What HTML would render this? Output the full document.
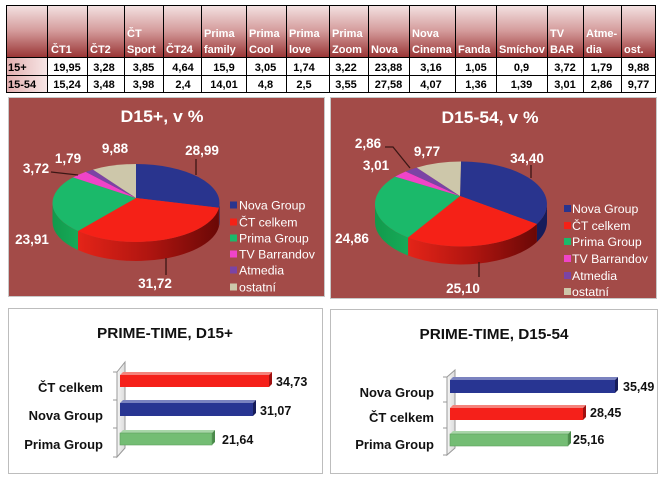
<!DOCTYPE html>
<html><head><meta charset="utf-8"><style>
html,body{margin:0;padding:0;background:#fff;}
svg{display:block;}
text{font-family:"Liberation Sans","DejaVu Sans",sans-serif;}
.h{fill:#fff;font-weight:bold;font-size:11px;}
.d{fill:#000;font-weight:bold;font-size:11px;text-anchor:middle;}
.pl{fill:#fff;font-weight:bold;font-size:13.5px;text-anchor:middle;}
.lg{fill:#fff;font-size:12.3px;}
.cat{fill:#111;font-weight:bold;font-size:13px;text-anchor:end;}
.bv{fill:#111;font-weight:bold;font-size:12.5px;}
</style></head><body>
<svg width="665" height="480" viewBox="0 0 665 480" xmlns="http://www.w3.org/2000/svg">
<defs>
<linearGradient id="hdr" x1="0" y1="0" x2="0" y2="1">
<stop offset="0" stop-color="#f4e3e3"/><stop offset="0.5" stop-color="#d49b9b"/><stop offset="1" stop-color="#9a3636"/>
</linearGradient>
<linearGradient id="rh" x1="0" y1="0" x2="1" y2="0">
<stop offset="0" stop-color="#e2aeae"/><stop offset="1" stop-color="#f7e6e6"/>
</linearGradient>
<linearGradient id="rs1" gradientUnits="userSpaceOnUse" x1="78" y1="0" x2="219" y2="0">
<stop offset="0" stop-color="#e42418"/><stop offset="0.5" stop-color="#b01510"/><stop offset="1" stop-color="#6a0806"/>
</linearGradient>
<linearGradient id="rs2" gradientUnits="userSpaceOnUse" x1="408" y1="0" x2="537" y2="0">
<stop offset="0" stop-color="#e42418"/><stop offset="0.5" stop-color="#b01510"/><stop offset="1" stop-color="#6a0806"/>
</linearGradient>
<linearGradient id="gs" x1="0" y1="0" x2="1" y2="0">
<stop offset="0" stop-color="#129a4c"/><stop offset="1" stop-color="#16aa58"/>
</linearGradient>
<linearGradient id="wall" x1="0" y1="0" x2="1" y2="0">
<stop offset="0" stop-color="#f4f4f4"/><stop offset="1" stop-color="#dcdcdc"/>
</linearGradient>
</defs>

<!-- TABLE -->
<rect x="6" y="5" width="649" height="52" fill="url(#hdr)"/>
<rect x="6" y="57" width="41" height="35" fill="url(#rh)"/>
<rect x="47" y="57" width="608" height="35" fill="#fff"/>
<g stroke="#000" stroke-width="1">
<line x1="6" y1="5.5" x2="655" y2="5.5"/>
<line x1="6" y1="57.5" x2="655" y2="57.5"/>
<line x1="6" y1="75.5" x2="655" y2="75.5"/>
<line x1="6" y1="92.5" x2="655" y2="92.5"/>
<line x1="6.5" y1="5" x2="6.5" y2="93"/>
<line x1="47.5" y1="5" x2="47.5" y2="93"/>
<line x1="87.5" y1="5" x2="87.5" y2="93"/>
<line x1="124.5" y1="5" x2="124.5" y2="93"/>
<line x1="163.5" y1="5" x2="163.5" y2="93"/>
<line x1="201.5" y1="5" x2="201.5" y2="93"/>
<line x1="246.5" y1="5" x2="246.5" y2="93"/>
<line x1="286.5" y1="5" x2="286.5" y2="93"/>
<line x1="329.5" y1="5" x2="329.5" y2="93"/>
<line x1="368.5" y1="5" x2="368.5" y2="93"/>
<line x1="409.5" y1="5" x2="409.5" y2="93"/>
<line x1="455.5" y1="5" x2="455.5" y2="93"/>
<line x1="496.5" y1="5" x2="496.5" y2="93"/>
<line x1="547.5" y1="5" x2="547.5" y2="93"/>
<line x1="583.5" y1="5" x2="583.5" y2="93"/>
<line x1="621.5" y1="5" x2="621.5" y2="93"/>
<line x1="655.5" y1="5" x2="655.5" y2="93"/>
</g>
<text class="h" x="51" y="53">ČT1</text>
<text class="h" x="90" y="53">ČT2</text>
<text class="h" x="127" y="37">ČT</text><text class="h" x="127" y="53">Sport</text>
<text class="h" x="166" y="53">ČT24</text>
<text class="h" x="204" y="37">Prima</text><text class="h" x="204" y="53">family</text>
<text class="h" x="249" y="37">Prima</text><text class="h" x="249" y="53">Cool</text>
<text class="h" x="289" y="37">Prima</text><text class="h" x="289" y="53">love</text>
<text class="h" x="332" y="37">Prima</text><text class="h" x="332" y="53">Zoom</text>
<text class="h" x="371" y="53">Nova</text>
<text class="h" x="412" y="37">Nova</text><text class="h" x="412" y="53">Cinema</text>
<text class="h" x="458" y="53">Fanda</text>
<text class="h" x="499" y="53">Smíchov</text>
<text class="h" x="550" y="37">TV</text><text class="h" x="550" y="53">BAR</text>
<text class="h" x="586" y="37">Atme-</text><text class="h" x="586" y="53">dia</text>
<text class="h" x="624" y="53">ost.</text>

<text x="8" y="71" style="font-weight:bold;font-size:11px;fill:#000">15+</text>
<text x="8" y="88" style="font-weight:bold;font-size:11px;fill:#000">15-54</text>
<g>
<text class="d" x="67" y="71">19,95</text><text class="d" x="104" y="71">3,28</text><text class="d" x="143.5" y="71">3,85</text><text class="d" x="183" y="71">4,64</text><text class="d" x="224" y="71">15,9</text><text class="d" x="265.5" y="71">3,05</text><text class="d" x="304" y="71">1,74</text><text class="d" x="346" y="71">3,22</text><text class="d" x="388.5" y="71">23,88</text><text class="d" x="431" y="71">3,16</text><text class="d" x="476" y="71">1,05</text><text class="d" x="521.5" y="71">0,9</text><text class="d" x="565" y="71">3,72</text><text class="d" x="601.5" y="71">1,79</text><text class="d" x="638.5" y="71">9,88</text>
<text class="d" x="67" y="88">15,24</text><text class="d" x="104" y="88">3,48</text><text class="d" x="143.5" y="88">3,98</text><text class="d" x="183" y="88">2,4</text><text class="d" x="224" y="88">14,01</text><text class="d" x="265.5" y="88">4,8</text><text class="d" x="304" y="88">2,5</text><text class="d" x="346" y="88">3,55</text><text class="d" x="388.5" y="88">27,58</text><text class="d" x="431" y="88">4,07</text><text class="d" x="476" y="88">1,36</text><text class="d" x="521.5" y="88">1,39</text><text class="d" x="565" y="88">3,01</text><text class="d" x="601.5" y="88">2,86</text><text class="d" x="638.5" y="88">9,77</text>
</g>

<!-- PIE PANELS -->
<rect x="8.5" y="97.5" width="316" height="199" fill="#a34b48" stroke="#c8c8c8"/>
<rect x="330.5" y="97.5" width="326" height="201" fill="#a34b48" stroke="#c8c8c8"/>

<!-- PIE 1 -->
<text x="162" y="122" text-anchor="middle" textLength="83" lengthAdjust="spacingAndGlyphs" style="fill:#fff;font-weight:bold;font-size:17px">D15+, v %</text>
<path d="M219.5,203 A83.5,39 0 0 1 218.9,207.75 L218.9,226.75 A83.5,39 0 0 0 219.5,222 Z" fill="#161c5a"/>
<path d="M218.9,207.75 A83.5,39 0 0 1 78,231.05 L78,250.05 A83.5,39 0 0 0 218.9,226.75 Z" fill="url(#rs1)"/>
<path d="M78,231.05 A83.5,39 0 0 1 52.5,203 L52.5,222 A83.5,39 0 0 0 78,250.05 Z" fill="url(#gs)"/>
<path d="M136,198 L136,164 A83.5,39 0 0 1 218.9,207.75 Z" fill="#29348e"/>
<path d="M136,198 L218.9,207.75 A83.5,39 0 0 1 78,231.05 Z" fill="#f52117"/>
<path d="M136,198 L78,231.05 A83.5,39 0 0 1 73,177.41 Z" fill="#1bb96a"/>
<path d="M136,198 L73,177.41 A83.5,39 0 0 1 85.75,171.85 Z" fill="#f044c8"/>
<path d="M136,198 L85.75,171.85 A83.5,39 0 0 1 93,169.57 Z" fill="#7b44a5"/>
<path d="M136,198 L93,169.57 A83.5,39 0 0 1 136,164 Z" fill="#cdc7aa"/>
<g stroke="#3b1715" stroke-width="1.3" fill="none">
<line x1="196" y1="159" x2="196" y2="175"/>
<line x1="166" y1="258" x2="166" y2="275"/>
<polyline points="51,172 78,175"/>
</g>
<text class="pl" x="202" y="155">28,99</text>
<text class="pl" x="155" y="288">31,72</text>
<text class="pl" x="32" y="244">23,91</text>
<text class="pl" x="36" y="173">3,72</text>
<text class="pl" x="68" y="163">1,79</text>
<text class="pl" x="115" y="153">9,88</text>
<rect x="230" y="201.5" width="7" height="7" fill="#29348e"/>
<rect x="230" y="218.5" width="7" height="7" fill="#f52117"/>
<rect x="230" y="234.5" width="7" height="7" fill="#1bb96a"/>
<rect x="230" y="250.5" width="7" height="7" fill="#f044c8"/>
<rect x="230" y="266.5" width="7" height="7" fill="#7b44a5"/>
<rect x="230" y="283.5" width="7" height="7" fill="#cdc7aa"/>
<text class="lg" x="239" y="209.5">Nova Group</text>
<text class="lg" x="239" y="226.5">ČT celkem</text>
<text class="lg" x="239" y="242.5">Prima Group</text>
<text class="lg" x="239" y="258.5">TV Barrandov</text>
<text class="lg" x="239" y="274.5">Atmedia</text>
<text class="lg" x="239" y="291.5">ostatní</text>

<!-- PIE 2 -->
<text x="490" y="123" text-anchor="middle" textLength="97" lengthAdjust="spacingAndGlyphs" style="fill:#fff;font-weight:bold;font-size:17px">D15-54, v %</text>
<path d="M547,204 A86,42.5 0 0 1 536.9,223.95 L536.9,241.95 A86,42.5 0 0 0 547,222 Z" fill="#161c5a"/>
<path d="M536.9,223.95 A86,42.5 0 0 1 408.05,237.49 L408.05,255.49 A86,42.5 0 0 0 536.9,241.95 Z" fill="url(#rs2)"/>
<path d="M408.05,237.49 A86,42.5 0 0 1 375,204 L375,222 A86,42.5 0 0 0 408.05,255.49 Z" fill="url(#gs)"/>
<path d="M460,196 L461,161.5 A86,42.5 0 0 1 536.9,223.95 Z" fill="#29348e"/>
<path d="M460,196 L536.9,223.95 A86,42.5 0 0 1 408.05,237.49 Z" fill="#f52117"/>
<path d="M460,196 L408.05,237.49 A86,42.5 0 0 1 395.12,176.68 Z" fill="#1bb96a"/>
<path d="M460,196 L395.12,176.68 A86,42.5 0 0 1 405.72,171.44 Z" fill="#f044c8"/>
<path d="M460,196 L405.72,171.44 A86,42.5 0 0 1 416.71,167.57 Z" fill="#7b44a5"/>
<path d="M460,196 L416.71,167.57 A86,42.5 0 0 1 461,161.5 Z" fill="#cdc7aa"/>
<g stroke="#3b1715" stroke-width="1.3" fill="none">
<line x1="531" y1="165" x2="531" y2="178"/>
<line x1="479" y1="262" x2="479" y2="277"/>
<polyline points="385,147 393,147 410,168"/>
</g>
<text class="pl" x="527" y="163">34,40</text>
<text class="pl" x="463" y="293">25,10</text>
<text class="pl" x="352" y="243">24,86</text>
<text class="pl" x="376" y="170">3,01</text>
<text class="pl" x="368" y="148">2,86</text>
<text class="pl" x="427" y="156">9,77</text>
<rect x="564" y="205" width="7" height="7" fill="#29348e"/>
<rect x="564" y="222" width="7" height="7" fill="#f52117"/>
<rect x="564" y="238" width="7" height="7" fill="#1bb96a"/>
<rect x="564" y="255" width="7" height="7" fill="#f044c8"/>
<rect x="564" y="272" width="7" height="7" fill="#7b44a5"/>
<rect x="564" y="288" width="7" height="7" fill="#cdc7aa"/>
<text class="lg" x="572" y="213">Nova Group</text>
<text class="lg" x="572" y="230">ČT celkem</text>
<text class="lg" x="572" y="246">Prima Group</text>
<text class="lg" x="572" y="263">TV Barrandov</text>
<text class="lg" x="572" y="280">Atmedia</text>
<text class="lg" x="572" y="296">ostatní</text>

<!-- BAR PANELS -->
<rect x="8.5" y="308.5" width="314" height="165" fill="#fff" stroke="#bdbdbd"/>
<rect x="330.5" y="309.5" width="327" height="164" fill="#fff" stroke="#bdbdbd"/>

<!-- BAR CHART 1 -->
<text x="165" y="338" text-anchor="middle" textLength="136" lengthAdjust="spacingAndGlyphs" style="fill:#111;font-weight:bold;font-size:14.5px">PRIME-TIME, D15+</text>
<polygon points="117,372 125,362 125,448 117,457" fill="url(#wall)" stroke="#999" stroke-width="1"/>
<g stroke="#999" stroke-width="1">
<line x1="113" y1="372" x2="117" y2="372"/>
<line x1="113" y1="400" x2="117" y2="400"/>
<line x1="113" y1="428" x2="117" y2="428"/>
<line x1="113" y1="457" x2="117" y2="457"/>
</g>
<!-- red -->
<polygon points="120,375 123,372 272,372 269,375" fill="#f4837c"/>
<polygon points="269,375 272,372 272,384 269,387" fill="#a01010"/>
<rect x="120" y="375" width="149" height="12" fill="#f5201a"/>
<!-- blue -->
<polygon points="120,403 123,400 256,400 253,403" fill="#7a82bf"/>
<polygon points="253,403 256,400 256,413 253,416" fill="#161c5a"/>
<rect x="120" y="403" width="133" height="13" fill="#283592"/>
<!-- green -->
<polygon points="120,433 123,430 215,430 212,433" fill="#a9d6a9"/>
<polygon points="212,433 215,430 215,442 212,445" fill="#4a8a4a"/>
<rect x="120" y="433" width="92" height="12" fill="#74bd74" stroke="#5e9e5e" stroke-width="0.6"/>
<text class="bv" x="276" y="386">34,73</text>
<text class="bv" x="260" y="415">31,07</text>
<text class="bv" x="222" y="444">21,64</text>
<text class="cat" x="103" y="392">ČT celkem</text>
<text class="cat" x="103" y="420">Nova Group</text>
<text class="cat" x="103" y="449">Prima Group</text>

<!-- BAR CHART 2 -->
<text x="494" y="339" text-anchor="middle" textLength="149" lengthAdjust="spacingAndGlyphs" style="fill:#111;font-weight:bold;font-size:14.5px">PRIME-TIME, D15-54</text>
<polygon points="447,377 455,370 455,448 447,455" fill="url(#wall)" stroke="#999" stroke-width="1"/>
<g stroke="#999" stroke-width="1">
<line x1="443" y1="377" x2="447" y2="377"/>
<line x1="443" y1="402" x2="447" y2="402"/>
<line x1="443" y1="428" x2="447" y2="428"/>
<line x1="443" y1="455" x2="447" y2="455"/>
</g>
<!-- blue -->
<polygon points="450,380 453,377 618,377 615,380" fill="#7a82bf"/>
<polygon points="615,380 618,377 618,390 615,393" fill="#161c5a"/>
<rect x="450" y="380" width="165" height="13" fill="#283592"/>
<!-- red -->
<polygon points="450,408 453,405 586,405 583,408" fill="#f4837c"/>
<polygon points="583,408 586,405 586,417 583,420" fill="#a01010"/>
<rect x="450" y="408" width="133" height="12" fill="#f5201a"/>
<!-- green -->
<polygon points="450,434 453,431 571,431 568,434" fill="#a9d6a9"/>
<polygon points="568,434 571,431 571,443 568,446" fill="#4a8a4a"/>
<rect x="450" y="434" width="118" height="12" fill="#74bd74" stroke="#5e9e5e" stroke-width="0.6"/>
<text class="bv" x="623" y="391">35,49</text>
<text class="bv" x="590" y="417">28,45</text>
<text class="bv" x="573" y="444">25,16</text>
<text class="cat" x="434" y="397">Nova Group</text>
<text class="cat" x="434" y="422">ČT celkem</text>
<text class="cat" x="434" y="449">Prima Group</text>
</svg>
</body></html>
